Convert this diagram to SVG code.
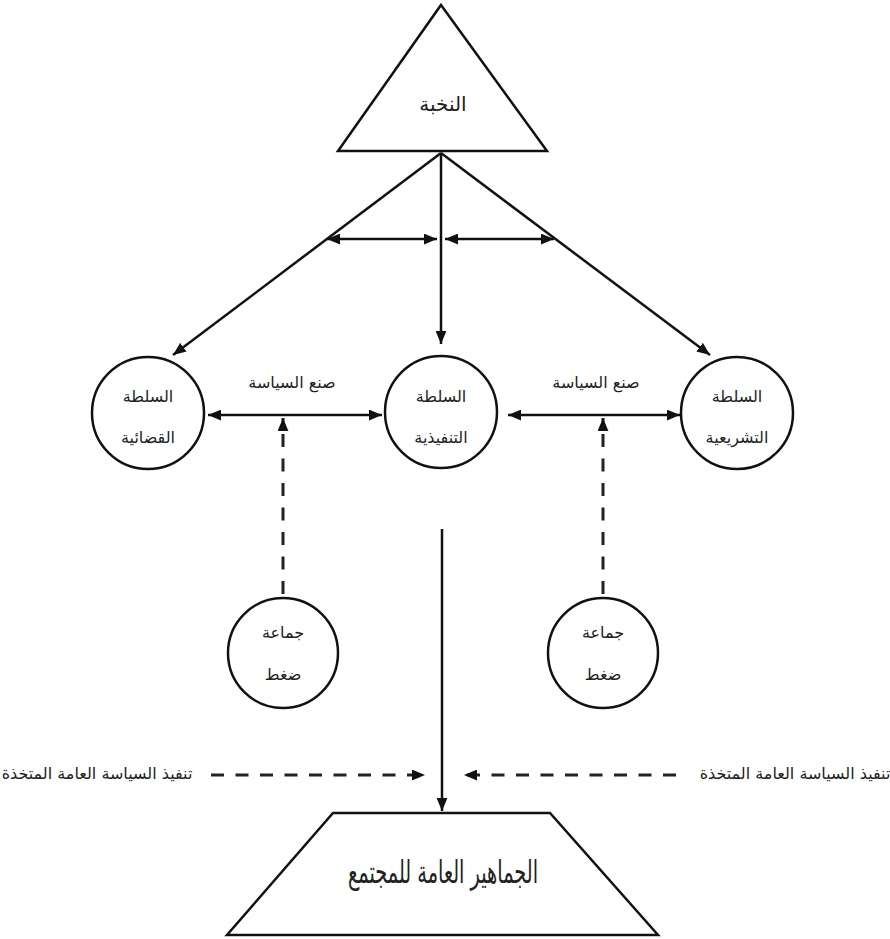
<svg xmlns="http://www.w3.org/2000/svg" width="890" height="939" viewBox="0 0 890 939">
<style>
.shape{fill:#fff;stroke:#111;stroke-width:2.5}
.ln{fill:none;stroke:#111;stroke-width:2.5}
.dash{fill:none;stroke:#222;stroke-width:3;stroke-dasharray:13 11.5}
text{font-family:"DejaVu Sans","Noto Sans",sans-serif;fill:#222;text-anchor:middle;dominant-baseline:central;direction:rtl}
.t{font-size:16px}
.big{font-size:32px}
</style>
<defs>
<marker id="ah" viewBox="0 0 12 10" refX="12" refY="5" markerWidth="13" markerHeight="11" markerUnits="userSpaceOnUse" orient="auto-start-reverse">
<path d="M0,0 L12,5 L0,10 z" fill="#111"/>
</marker>
</defs>
<rect width="890" height="939" fill="#fff"/>
<g id="connectors">
<line class="ln" x1="441" y1="153" x2="173" y2="355" marker-end="url(#ah)"/>
<line class="ln" x1="441" y1="153" x2="441" y2="344" marker-end="url(#ah)"/>
<line class="ln" x1="441" y1="153" x2="710" y2="355" marker-end="url(#ah)"/>
<line class="ln" x1="327" y1="239" x2="437" y2="239" marker-start="url(#ah)" marker-end="url(#ah)"/>
<line class="ln" x1="445" y1="239" x2="554" y2="239" marker-start="url(#ah)" marker-end="url(#ah)"/>
<line class="ln" x1="208" y1="415" x2="382" y2="415" marker-start="url(#ah)" marker-end="url(#ah)"/>
<line class="ln" x1="508" y1="415" x2="680" y2="415" marker-start="url(#ah)" marker-end="url(#ah)"/>
<line class="dash" x1="283" y1="594" x2="283" y2="418" marker-end="url(#ah)"/>
<line class="dash" x1="603" y1="594" x2="603" y2="418" marker-end="url(#ah)"/>
<line class="ln" x1="442" y1="529" x2="442" y2="811" marker-end="url(#ah)"/>
<line class="dash" x1="211" y1="775" x2="425" y2="775" marker-end="url(#ah)"/>
<line class="dash" x1="676" y1="775" x2="464" y2="775" marker-end="url(#ah)"/>
<text class="t" x="292" y="382">صنع السياسة</text>
<text class="t" x="596" y="382">صنع السياسة</text>
<text class="t" x="97" y="773">تنفيذ السياسة العامة المتخذة</text>
<text class="t" x="795" y="773">تنفيذ السياسة العامة المتخذة</text>
</g>
<g id="elite">
<polygon class="shape" points="441,5 547,151 338,151"/>
<text x="443" y="104" style="font-size:20px">النخبة</text>
</g>
<g id="judicial">
<circle class="shape" cx="148" cy="413" r="56"/>
<text class="t" x="148" y="396">السلطة</text>
<text class="t" x="148" y="437">القضائية</text>
</g>
<g id="executive">
<circle class="shape" cx="441" cy="412" r="56"/>
<text class="t" x="441" y="396">السلطة</text>
<text class="t" x="441" y="437">التنفيذية</text>
</g>
<g id="legislative">
<circle class="shape" cx="737" cy="413" r="56"/>
<text class="t" x="737" y="396">السلطة</text>
<text class="t" x="737" y="437">التشريعية</text>
</g>
<g id="pressure-left">
<circle class="shape" cx="283" cy="653" r="55"/>
<text class="t" x="283" y="632">جماعة</text>
<text class="t" x="283" y="674">ضغط</text>
</g>
<g id="pressure-right">
<circle class="shape" cx="603" cy="653" r="55"/>
<text class="t" x="603" y="632">جماعة</text>
<text class="t" x="603" y="674">ضغط</text>
</g>
<g id="public">
<polygon class="shape" points="333,813 550,813 658,935 227,935"/>
<text class="big" x="443" y="872" textLength="190" lengthAdjust="spacingAndGlyphs">الجماهير العامة للمجتمع</text>
</g>
</svg>
